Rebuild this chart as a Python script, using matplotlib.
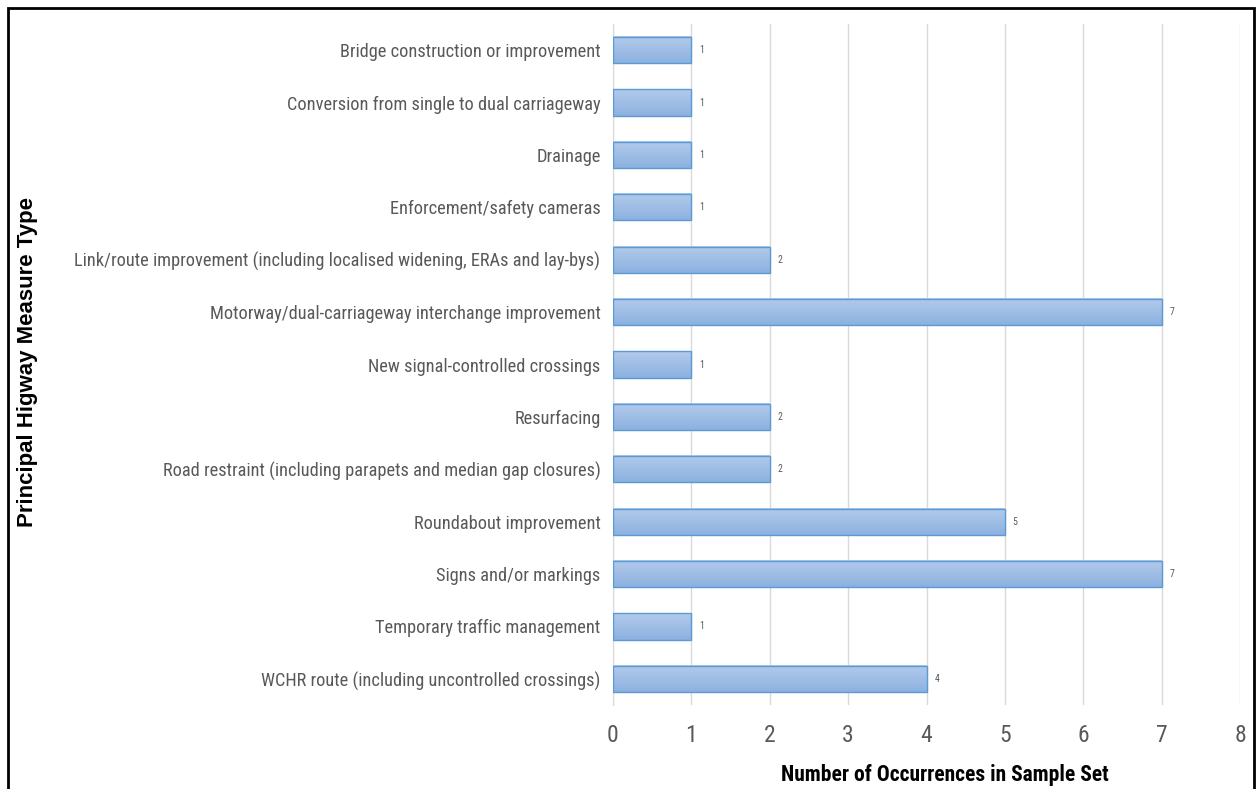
import matplotlib.pyplot as plt
from matplotlib.patches import Rectangle
import numpy as np

categories = [
    "Bridge construction or improvement",
    "Conversion from single to dual carriageway",
    "Drainage",
    "Enforcement/safety cameras",
    "Link/route improvement (including localised widening, ERAs and lay-bys)",
    "Motorway/dual-carriageway interchange improvement",
    "New signal-controlled crossings",
    "Resurfacing",
    "Road restraint (including parapets and median gap closures)",
    "Roundabout improvement",
    "Signs and/or markings",
    "Temporary traffic management",
    "WCHR route (including uncontrolled crossings)",
]
counts = [1, 1, 1, 1, 2, 7, 1, 2, 2, 5, 7, 1, 4]
x_ticks = [0, 1, 2, 3, 4, 5, 6, 7, 8]

narrow = ["Liberation Sans Narrow", "Roboto Condensed", "Open Sans Condensed",
          "Liberation Sans", "DejaVu Sans"]
grey = "#595959"

fig = plt.figure(figsize=(12.58, 7.89), dpi=100)
ax = fig.add_axes([613 / 1258, 84 / 789, 627 / 1258, 681 / 789])

y = np.arange(len(categories))
bars = ax.barh(y, counts, height=0.5, color="none", edgecolor="#5b9bd5", linewidth=1, zorder=4)

# vertical gradient fill like the original
grad = np.linspace(0, 1, 64).reshape(-1, 1)
cmap = plt.matplotlib.colors.LinearSegmentedColormap.from_list("g", ["#b3cbeb", "#8cb1e0"])
for b, v in zip(bars, counts):
    x0, y0, w, h = b.get_x(), b.get_y(), b.get_width(), b.get_height()
    ax.imshow(grad, extent=(x0, x0 + w, y0 + h, y0), origin="upper", cmap=cmap,
              aspect="auto", zorder=3)
    ax.text(x0 + w + 0.1, y0 + h / 2, str(v), va="center", ha="left", fontsize=7,
            color=grey, family=narrow)

ax.set_xlim(0, 8)
ax.set_ylim(len(categories) - 0.5, -0.5)
ax.set_xticks(x_ticks)
ax.set_xticklabels([str(t) for t in x_ticks], fontsize=17, color=grey, family=narrow)
ax.set_yticks(y)
ax.set_yticklabels(categories, fontsize=13.2, color=grey, family=narrow)
ax.tick_params(axis="both", length=0)
ax.tick_params(axis="x", pad=14)
ax.tick_params(axis="y", pad=9)

ax.grid(axis="x", color="#d9d9d9", linewidth=1, zorder=0)
for s in ["top", "right", "bottom"]:
    ax.spines[s].set_visible(False)
ax.spines["left"].set_color("#d9d9d9")

fig.text(945 / 1258, 1 - 775 / 789, "Number of Occurrences in Sample Set", ha="center",
         va="center", fontsize=15.5, fontweight="bold", family=narrow)
fig.text(28 / 1258, 1 - 362 / 789, "Principal Higway Measure Type", rotation=90,
         ha="center", va="center", fontsize=16, fontweight="bold", fontstretch="normal",
         family=["Liberation Sans", "DejaVu Sans"])

fig.patches.append(Rectangle((8 / 1258, -0.01), 1246 / 1258, 1 - 8 / 789 + 0.01,
                             transform=fig.transFigure, fill=False, edgecolor="black",
                             linewidth=2))

fig.savefig("out.png", dpi=100)
